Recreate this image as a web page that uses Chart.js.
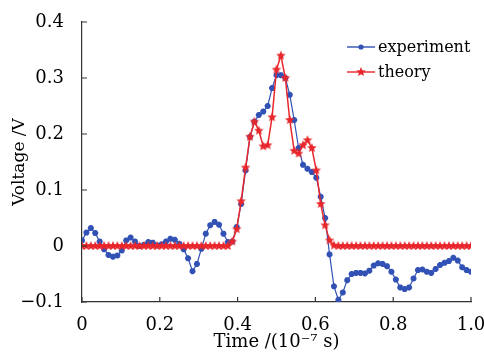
<!DOCTYPE html>
<html>
<head>
<meta charset="utf-8">
<script src="https://cdn.jsdelivr.net/npm/chart.js@4/dist/chart.umd.min.js"></script>
<style>
html,body{margin:0;padding:0;background:#fff;}
canvas{display:block;}
</style>
</head>
<body>
<canvas id="volt" width="484" height="359"></canvas>
<script>
// sampling interval of both curves, in units of 10^-7 s
const timeStep = 1 / 88;

const experiment = [
  0.010, 0.024, 0.032, 0.023, 0.008, -0.006, -0.016, -0.019, -0.017, -0.008,
  0.010, 0.015, 0.008, 0.000, 0.002, 0.007, 0.006, 0.001, 0.003, 0.008,
  0.013, 0.011, 0.004, -0.006, -0.022, -0.045, -0.032, -0.005, 0.022, 0.037,
  0.043, 0.038, 0.022, 0.007, 0.008, 0.034, 0.075, 0.135, 0.195, 0.222,
  0.234, 0.240, 0.250, 0.282, 0.305, 0.305, 0.300, 0.270, 0.225, 0.175,
  0.145, 0.138, 0.132, 0.122, 0.088, 0.050, -0.015, -0.072, -0.096, -0.083,
  -0.061, -0.050, -0.048, -0.048, -0.049, -0.044, -0.035, -0.031, -0.032, -0.036,
  -0.046, -0.060, -0.074, -0.077, -0.074, -0.058, -0.043, -0.042, -0.046, -0.048,
  -0.041, -0.034, -0.030, -0.027, -0.021, -0.026, -0.038, -0.043, -0.046
];

const theory = [
  0, 0, 0, 0, 0, 0, 0, 0, 0, 0,
  0, 0, 0, 0, 0, 0, 0, 0, 0, 0,
  0, 0, 0, 0, 0, 0, 0, 0, 0, 0,
  0, 0, 0, 0, 0.008, 0.030, 0.080, 0.140, 0.195, 0.222,
  0.206, 0.178, 0.180, 0.230, 0.315, 0.340, 0.300, 0.225, 0.170, 0.165,
  0.180, 0.189, 0.175, 0.135, 0.075, 0.037, 0.010, 0.001, 0, 0,
  0, 0, 0, 0, 0, 0, 0, 0, 0, 0,
  0, 0, 0, 0, 0, 0, 0, 0, 0, 0,
  0, 0, 0, 0, 0, 0, 0, 0, 0
];

const xTicks = [0, 0.2, 0.4, 0.6, 0.8, 1.0];
const yTicks = [-0.1, 0, 0.1, 0.2, 0.3, 0.4];
const names = ['experiment', 'theory'];

const blue = '#3251b5';
const red = '#e8262b';
const serif = '"DejaVu Serif", serif';

function toPoints(vals) {
  return vals.map((v, i) => ({x: i * timeStep, y: v}));
}

// five pointed star marker for the theory curve
function pentagram(color, r) {
  const c = document.createElement('canvas');
  const s = Math.ceil(r * 2 + 2);
  c.width = c.height = s;
  const g = c.getContext('2d');
  g.fillStyle = color;
  g.beginPath();
  for (let k = 0; k < 10; k++) {
    const rr = k % 2 ? r * 0.45 : r;
    const a = -Math.PI / 2 + k * Math.PI / 5;
    g.lineTo(s / 2 + rr * Math.cos(a), s / 2 + rr * Math.sin(a));
  }
  g.closePath();
  g.fill();
  return c;
}
const redStar = pentagram(red, 5);

function fmt(v) {
  if (Math.abs(v) < 1e-9) return '0';
  return v.toFixed(1).replace('-', '\u2212');
}

// inward ticks + legend
const frame = {
  id: 'frame',
  afterDraw(chart) {
    const {ctx, chartArea: a, scales: {x, y}} = chart;
    ctx.save();
    ctx.strokeStyle = '#333';
    ctx.lineWidth = 1.2;
    ctx.beginPath();
    xTicks.forEach(v => {
      const px = x.getPixelForValue(v);
      ctx.moveTo(px, a.bottom);
      ctx.lineTo(px, a.bottom - 5);
    });
    yTicks.forEach(v => {
      const py = y.getPixelForValue(v);
      ctx.moveTo(a.left, py);
      ctx.lineTo(a.left + 5, py);
    });
    ctx.stroke();

    ctx.font = '16px ' + serif;
    ctx.textBaseline = 'middle';
    const rows = [47, 72];
    [blue, red].forEach((col, k) => {
      const ly = rows[k];
      ctx.strokeStyle = col;
      ctx.lineWidth = 1.4;
      ctx.beginPath();
      ctx.moveTo(347, ly);
      ctx.lineTo(375, ly);
      ctx.stroke();
      if (k === 0) {
        ctx.fillStyle = col;
        ctx.beginPath();
        ctx.arc(361, ly, 2.6, 0, Math.PI * 2);
        ctx.fill();
      } else {
        ctx.drawImage(redStar, 361 - redStar.width / 2, ly - redStar.height / 2);
      }
      ctx.fillStyle = '#000';
      ctx.fillText(names[k], 378, ly + 1);
    });
    ctx.restore();
  }
};

new Chart(document.getElementById('volt'), {
  type: 'line',
  data: {
    datasets: [{
      label: names[1],
      data: toPoints(theory),
      borderColor: red,
      borderWidth: 1.5,
      pointStyle: redStar,
      pointRadius: 4,
      order: 0
    }, {
      label: names[0],
      data: toPoints(experiment),
      borderColor: blue,
      backgroundColor: blue,
      borderWidth: 1.2,
      pointStyle: 'star',
      pointRadius: 3,
      pointBorderWidth: 2,
      order: 1
    }]
  },
  options: {
    responsive: false,
    animation: false,
    layout: {padding: {top: 22, right: 13, left: 0, bottom: 0}},
    plugins: {legend: {display: false}, tooltip: {enabled: false}},
    scales: {
      x: {
        type: 'linear',
        min: 0,
        max: 1,
        afterBuildTicks: s => { s.ticks = xTicks.map(v => ({value: v})); },
        afterFit: s => { s.height = 57; s.paddingLeft = 0; s.paddingRight = 0; },
        grid: {display: false},
        border: {color: '#333', width: 1.2},
        ticks: {
          color: '#000', padding: 5, maxRotation: 0,
          font: {family: serif, size: 18},
          callback: fmt
        },
        title: {
          display: true, text: 'Time /(10\u207B\u2077 s)', color: '#000',
          font: {family: serif, size: 18},
          padding: {top: 0, bottom: 6}
        }
      },
      y: {
        min: -0.1,
        max: 0.4,
        afterBuildTicks: s => { s.ticks = yTicks.map(v => ({value: v})); },
        afterFit: s => { s.width = 82; },
        grid: {display: false},
        border: {color: '#333', width: 1.2},
        ticks: {
          color: '#000', padding: 10,
          font: {family: serif, size: 18},
          callback: fmt
        },
        title: {
          display: true, text: 'Voltage /V', color: '#000',
          font: {family: serif, size: 17},
          padding: {top: 9, bottom: 0}
        }
      }
    }
  },
  plugins: [frame]
});
</script>
</body>
</html>
